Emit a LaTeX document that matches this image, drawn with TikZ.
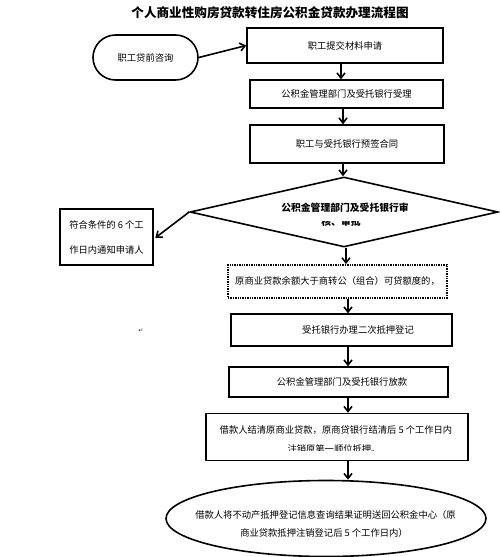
\documentclass[tikz,border=0pt]{standalone}
\usepackage{fontspec}
\setmainfont{Noto Sans CJK SC}
\newfontfamily\symfont{DejaVu Sans}
\usetikzlibrary{shapes.geometric,shapes.misc,arrows.meta}
\newcommand{\fs}{\fontsize{9.3}{11}\selectfont}
\tikzset{
  boxn/.style={draw, line width=1.6pt, rectangle, inner sep=0pt, font=\fs, align=center},
  arr/.style={-{Straight Barb[length=5pt,width=8pt]}, line width=1.6pt},
  txt/.style={inner sep=0pt, font=\fs, anchor=center},
}
\begin{document}
\begin{tikzpicture}[x=1pt,y=-1pt]
\useasboundingbox (0,0) rectangle (500,557);
% title
\node[inner sep=0pt, font={\fontsize{12.6}{14}\selectfont\bfseries}] (title) at (270,13) {个人商业性购房贷款转住房公积金贷款办理流程图};
% start
\node[draw, line width=1.6pt, rounded rectangle, minimum width=105pt, minimum height=45pt, inner sep=0pt, font=\fs] (consult) at (145.5,57.5) {职工贷前咨询};
\node[boxn, minimum width=196pt, minimum height=35pt] (b1) at (345,45.5) {职工提交材料申请};
\node[boxn, minimum width=193pt, minimum height=28pt] (b2) at (346.5,94) {公积金管理部门及受托银行受理};
\node[boxn, minimum width=194pt, minimum height=38pt] (b3) at (347,144) {职工与受托银行预签合同};
% decision
\node[draw, line width=1.6pt, diamond, minimum width=308pt, minimum height=70pt, inner sep=0pt] (dia) at (344,212) {};
\node[inner sep=0pt, font={\fontsize{9.8}{11}\selectfont\bfseries}] (diat) at (345,208) {公积金管理部门及受托银行审};
\begin{scope}
  \clip (300,221) rectangle (390,232);
  \node[inner sep=0pt, font={\fontsize{9.8}{11}\selectfont\bfseries}] (diat2) at (341,222) {核、审批};
\end{scope}
\node[boxn, minimum width=93pt, minimum height=56pt, font={\fontsize{9.3}{25}\selectfont}] (left) at (106.5,237) {符合条件的 6 个工\\作日内通知申请人};
\node[boxn, dash pattern=on 1.4pt off 1pt, line width=2pt, minimum width=219pt, minimum height=33pt] (dash) at (337.5,281.5) {原商业贷款余额大于商转公（组合）可贷额度的，};
\node[boxn, minimum width=221pt, minimum height=32pt] (b5) at (341.5,330) {\hspace*{33pt}受托银行办理二次抵押登记};
\node[boxn, minimum width=219pt, minimum height=30pt] (b6) at (338.5,382) {\hspace*{7pt}公积金管理部门及受托银行放款};
\node[boxn, minimum width=262pt, minimum height=47pt] (b7) at (337,437) {};
\node[txt] (b7t1) at (336,430) {借款人结清原商业贷款，原商贷银行结清后 5 个工作日内};
\begin{scope}
  \clip (250,442) rectangle (420,450.5);
  \node[txt] (b7t2) at (334,449) {注销原第一顺位抵押。};
\end{scope}
\node[draw, line width=1.6pt, ellipse, minimum width=320pt, minimum height=76pt, inner sep=0pt] (ell) at (326,518.5) {};
\node[txt] (ellt1) at (325.5,515) {借款人将不动产抵押登记信息查询结果证明送回公积金中心（原};
\node[txt] (ellt2) at (324,533) {商业贷款抵押注销登记后 5 个工作日内）};
% stray mark
\node[inner sep=0pt, font={\symfont\fontsize{6}{7}\selectfont}, text=black!80] (mark) at (141,331) {↵};
% connectors
\draw[arr] (consult.east) -- (b1.west);
\draw[arr] ([xshift=-4pt]b1.south) -- ([xshift=-5.5pt]b2.north);
\draw[arr] ([xshift=-3.5pt]b2.south) -- ([xshift=-4pt]b3.north);
\draw[arr] ([xshift=-4pt]b3.south) -- ([xshift=-1pt]dia.north);
\draw[arr, shorten >=2pt] (dia.west) -- ([yshift=-2pt]left.east);
\draw[arr] ([xshift=2pt]dia.south) -- ([xshift=8.5pt]dash.north);
\draw[arr] ([xshift=10.5pt]dash.south) -- ([xshift=6.5pt]b5.north);
\draw[arr] ([xshift=6.5pt]b5.south) -- ([xshift=9.5pt]b6.north);
\draw[arr] ([xshift=9.5pt]b6.south) -- ([xshift=11pt]b7.north);
\draw[arr] ([xshift=11pt]b7.south) -- ([xshift=22pt]ell.north);
\end{tikzpicture}
\end{document}
